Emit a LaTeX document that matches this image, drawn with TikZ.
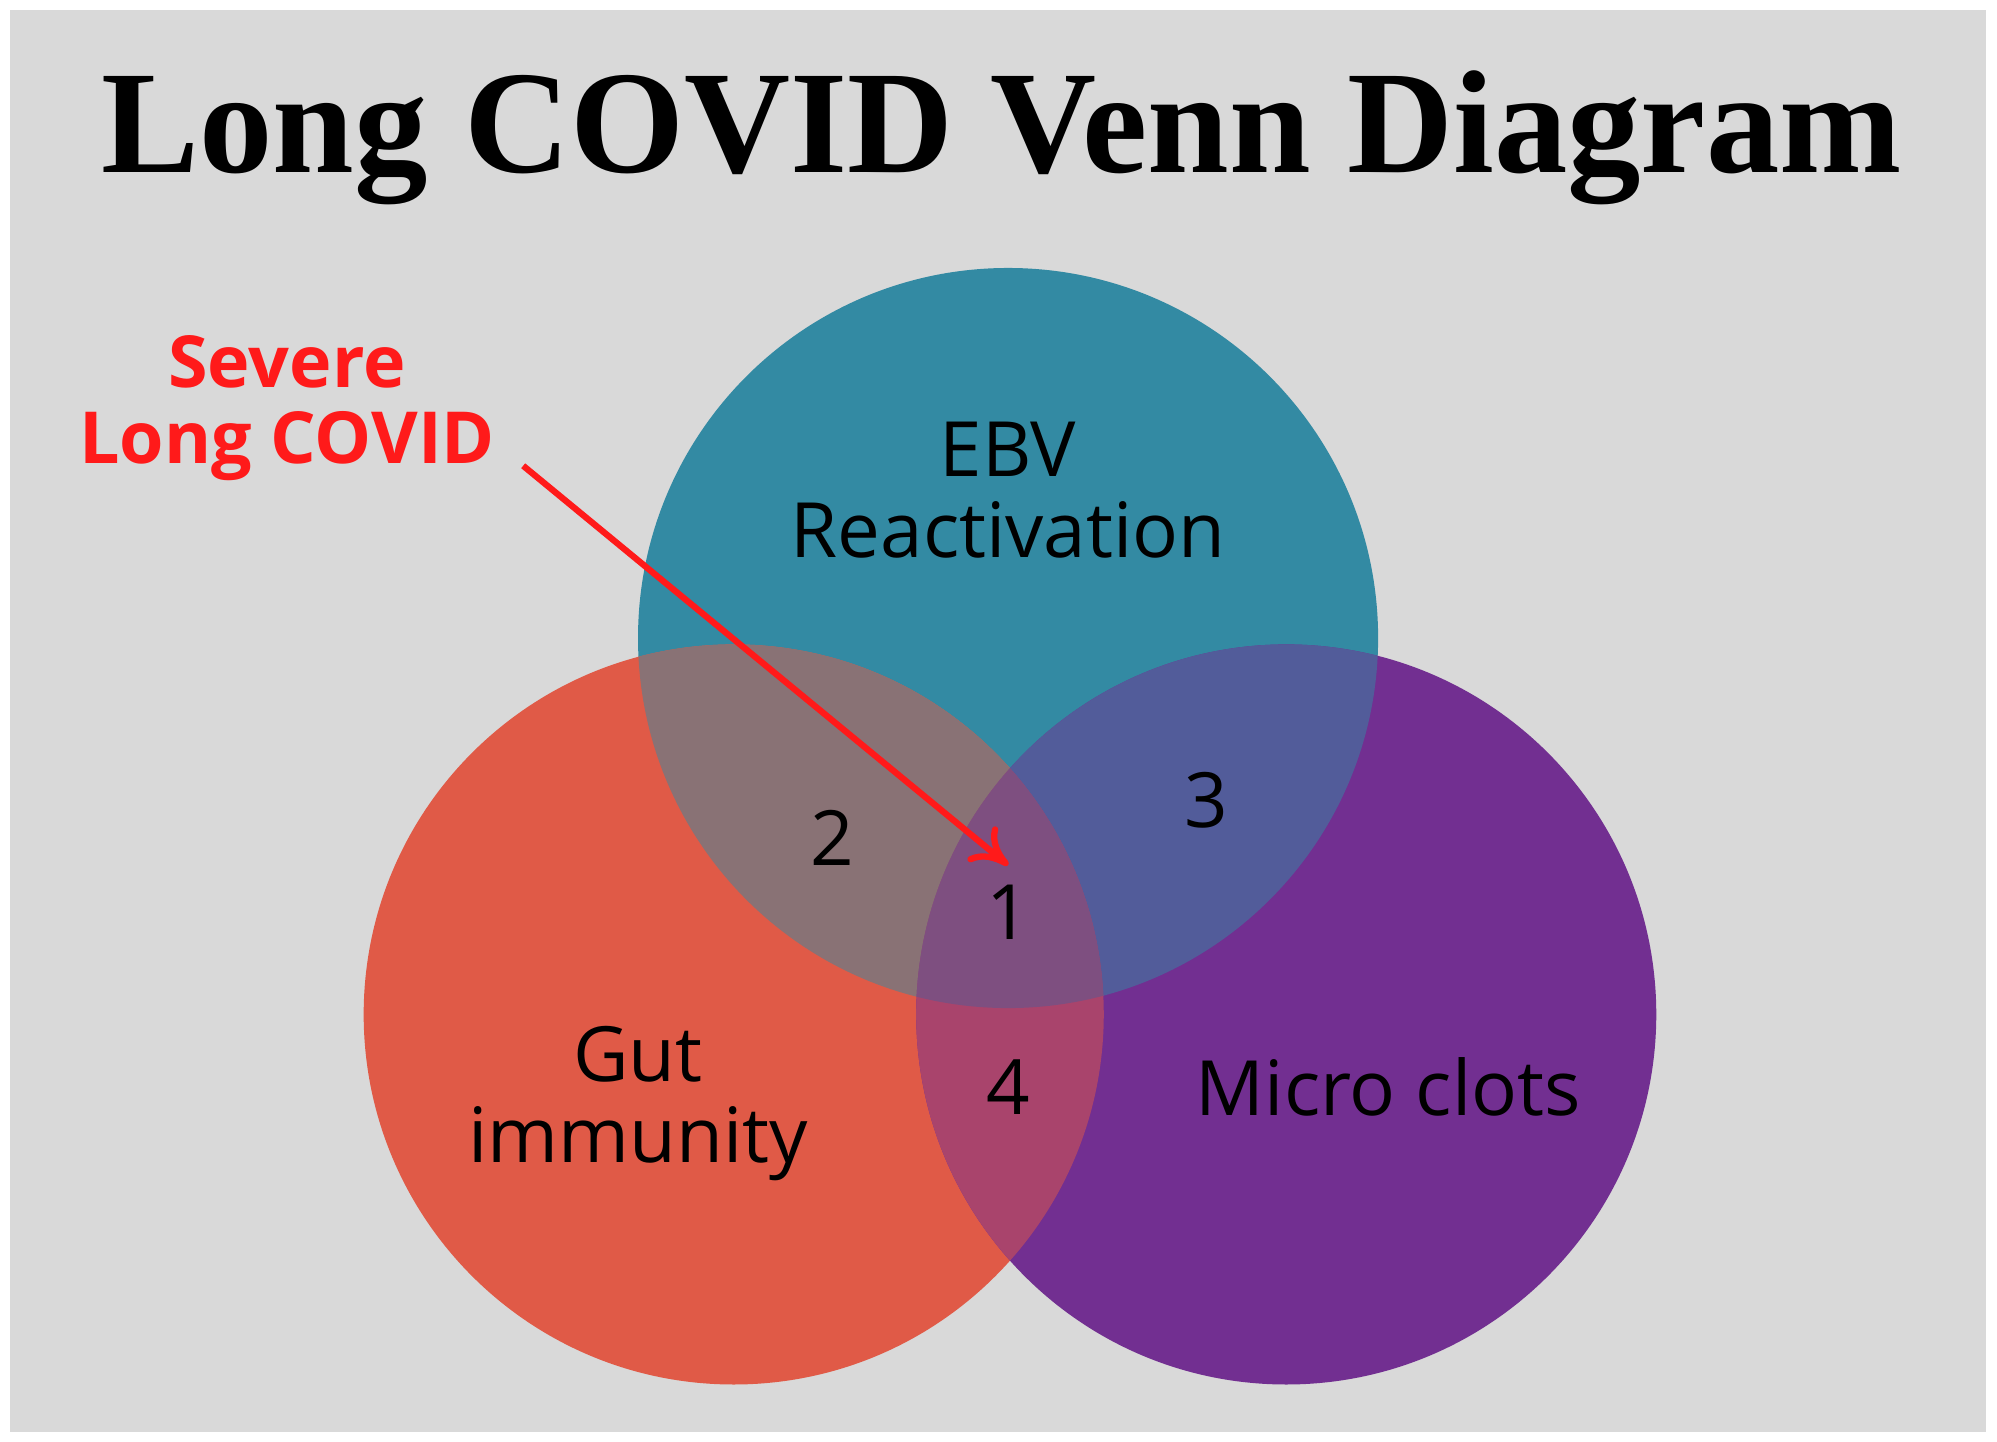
\documentclass[tikz,border=0pt]{standalone}
\usepackage{fontspec}
\setmainfont{Open Sans}
\newfontfamily\titlefont{Liberation Serif}
\usetikzlibrary{arrows.meta}
\definecolor{bg}{HTML}{D9D9D9}
\definecolor{teal}{HTML}{338AA3}
\definecolor{redc}{HTML}{E05A47}
\definecolor{purp}{HTML}{722F91}
\definecolor{rt}{HTML}{897275}
\definecolor{tp}{HTML}{525C9A}
\definecolor{rp}{HTML}{A9446C}
\definecolor{trip}{HTML}{7E4F80}
\definecolor{alert}{HTML}{FF1A1A}
\tikzset{lab/.style={font=\fontsize{17}{20}\selectfont, text=black, align=center},
 alertlab/.style={font=\fontsize{16}{19}\selectfont\bfseries, text=alert}}
\begin{document}
\begin{tikzpicture}[x=0.01cm,y=-0.01cm]
\useasboundingbox (0,0) rectangle (1565,1130);
\fill[white] (0,0) rectangle (1565,1130);
\fill[bg] (8,8) rectangle (1556,1122);
\def\T{(790,500) circle (290)}
\def\R{(575,795) circle (290)}
\def\P{(1008,795) circle (290)}
\fill[teal] \T; \fill[redc] \R; \fill[purp] \P;
\begin{scope}\clip \T; \fill[rt] \R; \fill[tp] \P; \end{scope}
\begin{scope}\clip \R; \fill[rp] \P; \end{scope}
\begin{scope}\clip \T; \clip \R; \fill[trip] \P; \end{scope}
\node (title) at (785,108) {\resizebox{14.1cm}{!}{\titlefont\bfseries Long COVID Venn Diagram}};
\node[lab] (ebv) at (790,384) {EBV\\[-2pt]Reactivation};
\node[lab] (gut) at (500,865) {Gut\\[-2pt]immunity};
\node[lab] (mc) at (1088,852) {Micro clots};
\node[lab] (n2) at (652,657) {2};
\node[lab] (n3) at (945,627) {3};
\node[lab] (n1) at (790,715) {1};
\node[lab] (n4) at (790,852) {4};
\node[alertlab, align=center] (sev) at (225,320) {Severe\\[-2pt]Long COVID};
\coordinate (a0) at (410,365);
\coordinate (a1) at (790,678);
\draw[alert, line width=1.4pt, -{To[length=8pt,width=10pt]}] (a0) -- (a1);
\end{tikzpicture}
\end{document}
